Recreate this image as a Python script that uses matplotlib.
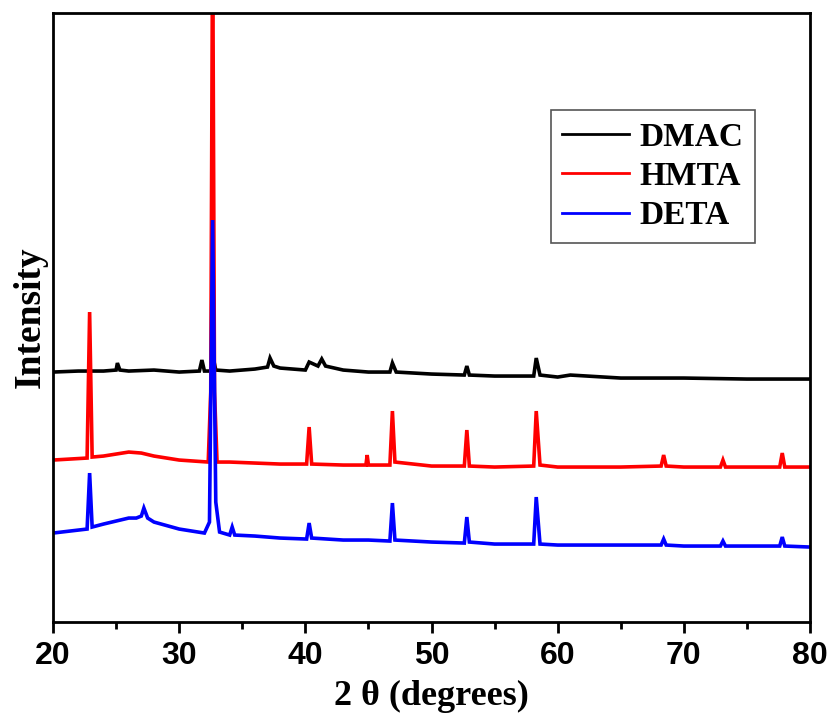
import numpy as np
import matplotlib
matplotlib.use("Agg")
import matplotlib.pyplot as plt
from matplotlib.ticker import MultipleLocator

# XRD patterns (2theta in degrees, intensity in arbitrary units)
dmac_x = [20, 22, 24, 25, 25.1, 25.3, 26, 28, 30, 31.6, 31.8, 32.0, 32.5, 32.7, 32.9, 34, 36,
          37.0, 37.2, 37.5, 38, 40, 40.3, 41, 41.3, 41.6, 43, 45, 46.7, 46.9, 47.2, 50,
          52.6, 52.8, 53.0, 55, 58.1, 58.3, 58.6, 60, 61, 65, 70, 75, 80]
dmac_y = [250, 251, 251, 252, 259, 252, 251, 252, 250, 251, 262, 251, 251, 264, 252, 251, 253,
          255, 264, 256, 254, 252, 260, 256, 263, 256, 252, 250, 250, 259, 250, 248,
          247, 256, 247, 246, 246, 264, 247, 245, 247, 244, 244, 243, 243]

hmta_x = [20, 22.7, 22.9, 23.1, 24, 26, 27, 28, 30, 32.3, 32.5, 32.65, 32.8, 33.0, 34, 36, 38,
          40.1, 40.3, 40.5, 43, 44.8, 44.9, 45.0, 46.7, 46.9, 47.1, 50, 52.6, 52.8, 53.0, 55,
          58.1, 58.3, 58.6, 60, 65, 68.2, 68.4, 68.6, 70, 72.9, 73.1, 73.3, 75,
          77.6, 77.8, 78.0, 80]
hmta_y = [162, 164, 310, 165, 166, 170, 169, 166, 162, 160, 230, 700, 230, 160, 160, 159, 158,
          158, 195, 158, 157, 157, 167, 157, 157, 211, 160, 156, 156, 192, 156, 155,
          156, 211, 157, 155, 155, 156, 167, 156, 155, 155, 162, 155, 155,
          155, 169, 155, 155]

deta_x = [20, 22.7, 22.9, 23.1, 24, 25, 26, 26.6, 27.0, 27.2, 27.5, 28, 30, 32.0, 32.4, 32.65,
          32.9, 33.2, 34, 34.2, 34.4, 36, 38, 40.1, 40.3, 40.5, 43, 45, 46.7, 46.9, 47.1, 50,
          52.6, 52.8, 53.0, 55, 58.1, 58.3, 58.6, 60, 65, 68.2, 68.4, 68.6, 70,
          72.9, 73.1, 73.3, 75, 77.6, 77.8, 78.0, 80]
deta_y = [89, 93, 149, 95, 98, 101, 104, 104, 106, 114, 104, 100, 93, 89, 100, 402,
          120, 90, 87, 95, 87, 86, 84, 83, 99, 84, 82, 82, 81, 119, 82, 80,
          79, 105, 80, 78, 78, 125, 78, 77, 77, 77, 83, 77, 76,
          76, 81, 76, 76, 76, 85, 76, 75]

series = [("DMAC", dmac_x, dmac_y, "black"),
          ("HMTA", hmta_x, hmta_y, "#ff0000"),
          ("DETA", deta_x, deta_y, "#0000ff")]

fig = plt.figure(figsize=(8.3, 7.25), dpi=100)
ax = fig.add_axes([0.0639, 0.142, 0.912, 0.84])

for name, xs, ys, col in series:
    ax.plot(xs, ys, color=col, lw=2.6, label=name, solid_joinstyle="miter")

ax.set_xlim(20, 80)
ax.set_ylim(0, 609)
ax.xaxis.set_major_locator(MultipleLocator(10))
ax.xaxis.set_minor_locator(MultipleLocator(5))
ax.set_yticks([])
ax.tick_params(axis="x", which="major", direction="out", length=8, width=2, pad=6)
ax.tick_params(axis="x", which="minor", direction="out", length=5, width=2)
for sp in ax.spines.values():
    sp.set_linewidth(2)

tick_font = ["Liberation Sans Narrow", "Liberation Sans", "DejaVu Sans"]
for lab in ax.get_xticklabels():
    lab.set_family(tick_font)
    lab.set_fontweight("bold")
    lab.set_fontsize(23)

serif = ["Liberation Serif", "DejaVu Serif"]
ax.set_xlabel("2 \u03b8 (degrees)", family=serif, fontweight="bold", fontsize=26, labelpad=6)
ax.set_ylabel("Intensity", family=serif, fontweight="bold", fontsize=27, labelpad=4)

leg = ax.legend(loc="upper right", bbox_to_anchor=(0.927, 0.841), borderaxespad=0,
                prop={"family": serif, "weight": "bold", "size": 24},
                handlelength=2.0, handletextpad=0.3, labelspacing=0.25,
                fancybox=False, framealpha=1, borderpad=0.35)
leg.get_frame().set_edgecolor("#555555")
leg.get_frame().set_linewidth(1.2)
for line in leg.get_lines():
    line.set_linewidth(2)

fig.savefig("out.png", dpi=100)
